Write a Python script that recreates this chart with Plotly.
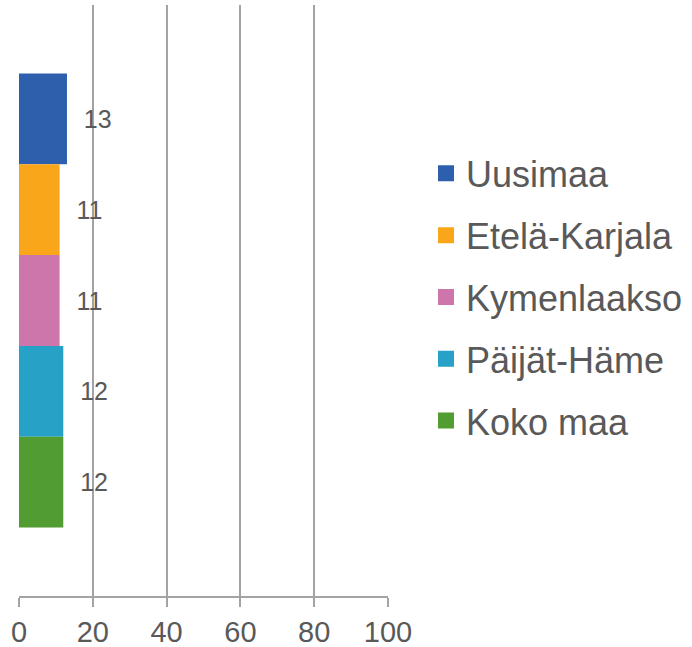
import plotly.graph_objects as go

# Data
category = ["Kaikki"]
series_names = ["Uusimaa", "Etelä-Karjala", "Kymenlaakso", "Päijät-Häme", "Koko maa"]
series_values = [13, 11, 11, 12, 12]
series_colors = ["#2e5fac", "#f9a61b", "#cc76ab", "#27a1c5", "#529d31"]

x_ticks = [0, 20, 40, 60, 80, 100]

FONT = "Liberation Sans, Arial, sans-serif"
GREY = "#595959"
GRID = "#a3a3a3"

fig = go.Figure()

for i, (name, val, col) in enumerate(zip(series_names, series_values, series_colors)):
    # the bar itself (legend drawn separately so the squares can be larger)
    fig.add_trace(go.Bar(
        y=category, x=[val], orientation="h", name=name,
        marker=dict(color=col, line=dict(width=0)),
        text=["\u00a0\u00a0" + str(val)], textposition="outside",
        textfont=dict(family=FONT, size=25, color=GREY),
        cliponaxis=False, showlegend=False, hoverinfo="x+name",
    ))
    # legend entry
    fig.add_trace(go.Scatter(
        x=[None], y=[None], mode="markers", name=name,
        marker=dict(symbol="square", size=19, color=col),
        legendgroup="g%d" % i, showlegend=True,
    ))

fig.update_layout(
    width=692, height=647,
    margin=dict(l=19, r=303, t=5, b=51),
    paper_bgcolor="white", plot_bgcolor="white",
    barmode="group", bargap=0.232, bargroupgap=0,
    font=dict(family=FONT, color=GREY),
    xaxis=dict(
        range=[0, 100], tickvals=x_ticks, showgrid=True,
        gridcolor=GRID, gridwidth=1.5, zeroline=False,
        showline=True, linecolor=GRID, linewidth=1.5,
        ticks="outside", ticklen=9, tickcolor=GRID, tickwidth=1.5,
        tickfont=dict(family=FONT, size=29, color=GREY),
        fixedrange=True, automargin=False,
    ),
    yaxis=dict(
        autorange="reversed", showticklabels=False, showgrid=False,
        zeroline=False, showline=False, ticks="", automargin=False,
    ),
    legend=dict(
        x=1.1, xanchor="left", y=0.506, yanchor="middle",
        font=dict(family=FONT, size=36, color=GREY),
        traceorder="grouped", tracegroupgap=12,
        bgcolor="rgba(0,0,0,0)", itemclick=False,
    ),
    showlegend=True,
)

# drop the browser's default 8px body margin so the figure fills the window
fig.write_html("out.html", config={"displayModeBar": False},
               post_script="document.body.style.margin='0';")
